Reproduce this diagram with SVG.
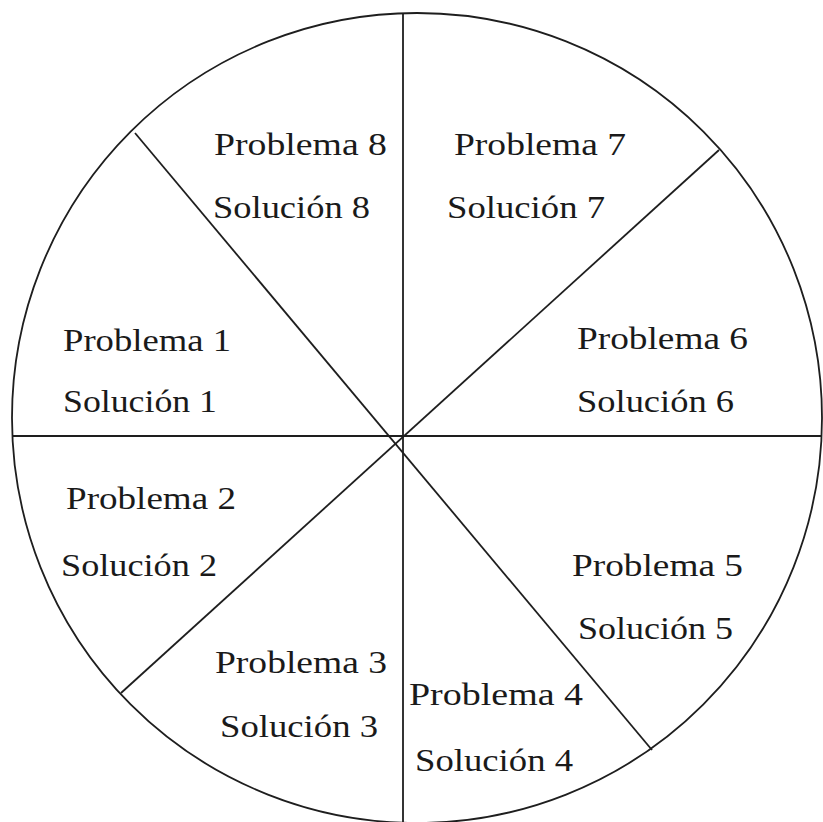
<svg xmlns="http://www.w3.org/2000/svg" width="823" height="822" viewBox="0 0 823 822">
  <style>
    .ln { stroke: #1e1e1e; stroke-width: 1.8; fill: none; }
    .t { font-family: "Liberation Serif", "Times New Roman", serif; font-size: 32px; fill: #1a1a1a; }
  </style>
  <rect width="823" height="822" fill="#ffffff"/>
  <g id="wheel">
    <circle class="ln" cx="417" cy="418" r="405"/>
  </g>
  <g id="connectors">
    <line class="ln" x1="403" y1="13" x2="403" y2="822"/>
    <line class="ln" x1="13" y1="436" x2="822" y2="436"/>
    <line class="ln" x1="135" y1="133" x2="652" y2="750"/>
    <line class="ln" x1="719" y1="150" x2="121" y2="693"/>
  </g>
  <g id="sector1">
    <text class="t" x="63" y="351" textLength="168" lengthAdjust="spacingAndGlyphs">Problema 1</text>
    <text class="t" x="63" y="412" textLength="154" lengthAdjust="spacingAndGlyphs">Solución 1</text>
  </g>
  <g id="sector2">
    <text class="t" x="66" y="509" textLength="170" lengthAdjust="spacingAndGlyphs">Problema 2</text>
    <text class="t" x="61" y="576" textLength="156" lengthAdjust="spacingAndGlyphs">Solución 2</text>
  </g>
  <g id="sector3">
    <text class="t" x="215" y="673" textLength="172" lengthAdjust="spacingAndGlyphs">Problema 3</text>
    <text class="t" x="220" y="737" textLength="158" lengthAdjust="spacingAndGlyphs">Solución 3</text>
  </g>
  <g id="sector4">
    <text class="t" x="409" y="705" textLength="174" lengthAdjust="spacingAndGlyphs">Problema 4</text>
    <text class="t" x="415" y="771" textLength="158" lengthAdjust="spacingAndGlyphs">Solución 4</text>
  </g>
  <g id="sector5">
    <text class="t" x="572" y="576" textLength="171" lengthAdjust="spacingAndGlyphs">Problema 5</text>
    <text class="t" x="578" y="639" textLength="155" lengthAdjust="spacingAndGlyphs">Solución 5</text>
  </g>
  <g id="sector6">
    <text class="t" x="577" y="349" textLength="171" lengthAdjust="spacingAndGlyphs">Problema 6</text>
    <text class="t" x="577" y="412" textLength="157" lengthAdjust="spacingAndGlyphs">Solución 6</text>
  </g>
  <g id="sector7">
    <text class="t" x="454" y="155" textLength="172" lengthAdjust="spacingAndGlyphs">Problema 7</text>
    <text class="t" x="447" y="218" textLength="158" lengthAdjust="spacingAndGlyphs">Solución 7</text>
  </g>
  <g id="sector8">
    <text class="t" x="214" y="155" textLength="173" lengthAdjust="spacingAndGlyphs">Problema 8</text>
    <text class="t" x="213" y="218" textLength="157" lengthAdjust="spacingAndGlyphs">Solución 8</text>
  </g>
</svg>
